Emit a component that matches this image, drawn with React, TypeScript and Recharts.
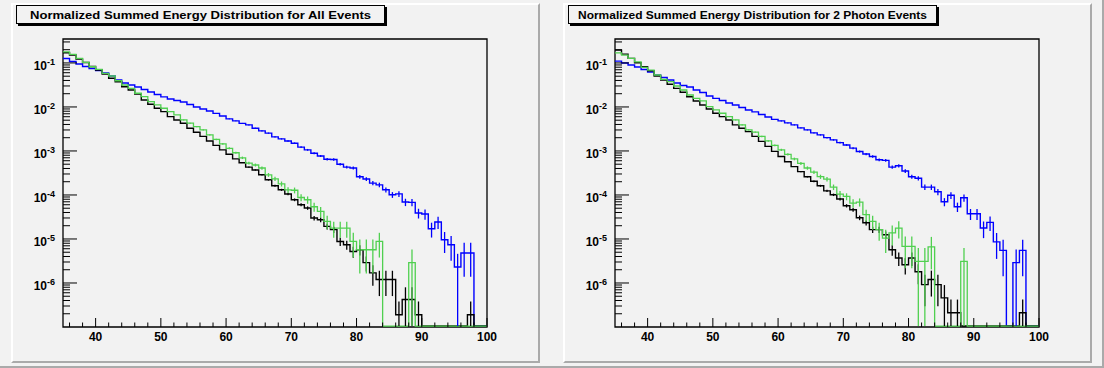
import React from 'react';
import { ComposedChart, Line, Scatter, ErrorBar, XAxis, YAxis, ReferenceArea } from 'recharts';

// ---------- data (bins of width 1 from 35 to 100) ----------
const binEdges: number[] = Array.from({ length: 66 }, (_, i) => 35 + i);

const allBlue = [
  0.126, 0.108, 0.0944, 0.0828, 0.0746, 0.0673, 0.059, 0.0505, 0.0409, 0.035,
  0.0315, 0.0284, 0.0249, 0.0219, 0.0192, 0.0169, 0.0152, 0.014, 0.013, 0.0114,
  0.01, 0.009, 0.0081, 0.00713, 0.00625, 0.00535, 0.00482, 0.00423, 0.00391, 0.00329,
  0.00286, 0.00254, 0.00209, 0.00188, 0.00169, 0.0015, 0.00122, 0.00106, 0.00089, 0.00077,
  0.00065, 0.00064, 0.0005, 0.00043, 0.00041, 0.00026, 0.00023, 0.000186, 0.00017, 0.000131,
  0.000101, 0.000106, 0.000069, 0.000068, 0.0000389, 0.0000369, 0.0000171, 0.0000243, 0.0000096, 0.0000074,
  0.0000023, 0.0000048, 0.0000048, 0, 0,
];
const allBlueErr = [
  0, 0, 0, 0, 0, 0, 0, 0, 0, 0,
  0, 0, 0, 0, 0, 0, 0, 0, 0, 0,
  0, 0, 0, 0, 0, 0.021, 0.022, 0.024, 0.025, 0.027,
  0.029, 0.031, 0.034, 0.036, 0.038, 0.04, 0.044, 0.048, 0.052, 0.056,
  0.061, 0.061, 0.069, 0.075, 0.077, 0.096, 0.1, 0.11, 0.12, 0.135,
  0.15, 0.15, 0.19, 0.19, 0.25, 0.26, 0.37, 0.31, 0.5, 0.57,
  1.0, 0.71, 0.71, 0, 0,
];
const allGreen = [
  0.179, 0.157, 0.127, 0.103, 0.082, 0.0716, 0.0581, 0.0505, 0.0394, 0.0315,
  0.0265, 0.0205, 0.0171, 0.0132, 0.0111, 0.00935, 0.00782, 0.00659, 0.00507, 0.00427,
  0.00357, 0.00301, 0.00232, 0.00183, 0.00145, 0.00115, 0.00091, 0.0007, 0.00053, 0.00048,
  0.00041, 0.000287, 0.000233, 0.000179, 0.000131, 0.000128, 0.0000877, 0.0000778, 0.000054, 0.0000423,
  0.0000251, 0.0000177, 0.0000177, 0.0000177, 0.0000088, 0.0000057, 0.0000057, 0.0000057, 0.0000088, 0,
  0, 0, 0, 0.0000029, 0, 0, 0, 0, 0, 0,
  0, 0, 0, 0, 0,
];
const allGreenErr = [
  0, 0, 0, 0, 0, 0, 0, 0, 0, 0,
  0, 0, 0, 0, 0, 0, 0, 0, 0.024, 0.026,
  0.028, 0.031, 0.035, 0.04, 0.045, 0.05, 0.056, 0.064, 0.074, 0.078,
  0.084, 0.1, 0.11, 0.13, 0.15, 0.15, 0.18, 0.19, 0.23, 0.26,
  0.34, 0.4, 0.4, 0.4, 0.57, 0.71, 0.71, 0.71, 0.57, 0,
  0, 0, 0, 1.0, 0, 0, 0, 0, 0, 0,
  0, 0, 0, 0, 0,
];
const allBlack = [
  0.17, 0.151, 0.122, 0.102, 0.0828, 0.069, 0.056, 0.0448, 0.0375, 0.0288,
  0.0243, 0.0197, 0.0144, 0.0115, 0.00935, 0.00782, 0.00603, 0.00507, 0.00427, 0.00329,
  0.00267, 0.00214, 0.00169, 0.00134, 0.00106, 0.00084, 0.00066, 0.00054, 0.00043, 0.00037,
  0.000287, 0.000221, 0.000162, 0.000131, 0.000105, 0.0000778, 0.00006, 0.0000505, 0.0000299, 0.0000274,
  0.0000193, 0.0000163, 0.0000088, 0.0000074, 0.0000052, 0.0000057, 0.0000029, 0.0000017, 0.0000012, 0.0000012,
  0.0000012, 1.9e-7, 4.2e-7, 4.2e-7, 1.9e-7, 0, 0, 0, 0, 0,
  0, 0, 1.9e-7, 0, 0,
];
const allBlackErr = [
  0, 0, 0, 0, 0, 0, 0, 0, 0, 0,
  0, 0, 0, 0, 0, 0, 0, 0, 0, 0,
  0, 0, 0, 0, 0, 0, 0, 0, 0.03, 0.033,
  0.037, 0.043, 0.05, 0.055, 0.062, 0.072, 0.082, 0.089, 0.116, 0.12,
  0.144, 0.157, 0.21, 0.23, 0.28, 0.26, 0.37, 0.49, 0.58, 0.58,
  0.58, 1.0, 0.9, 0.9, 1.0, 0, 0, 0, 0, 0,
  0, 0, 1.0, 0, 0,
];

const photonBlue = [
  0.11, 0.0995, 0.0895, 0.0807, 0.0708, 0.0622, 0.0532, 0.0467, 0.0409, 0.035,
  0.0308, 0.0284, 0.0243, 0.0213, 0.0177, 0.0157, 0.014, 0.0123, 0.0111, 0.00975,
  0.00855, 0.00771, 0.00676, 0.00593, 0.00521, 0.00482, 0.00434, 0.00391, 0.00334, 0.00301,
  0.00257, 0.00232, 0.00201, 0.00179, 0.00155, 0.00137, 0.00116, 0.00097, 0.00085, 0.00075,
  0.00063, 0.00061, 0.00043, 0.00046, 0.00035, 0.00026, 0.00024, 0.000151, 0.000151, 0.000118,
  0.0000701, 0.0000984, 0.000054, 0.0000865, 0.0000375, 0.0000375, 0.0000177, 0.0000238, 0.0000086, 0.0000055,
  0, 0.0000029, 0.0000055, 0, 0,
];
const photonBlueErr = [
  0, 0, 0, 0, 0, 0, 0, 0, 0, 0,
  0, 0, 0, 0, 0, 0, 0, 0, 0, 0,
  0, 0, 0, 0, 0, 0.025, 0.026, 0.028, 0.03, 0.032,
  0.034, 0.036, 0.039, 0.041, 0.044, 0.047, 0.051, 0.056, 0.059, 0.063,
  0.069, 0.07, 0.084, 0.081, 0.093, 0.107, 0.112, 0.14, 0.14, 0.16,
  0.21, 0.175, 0.24, 0.19, 0.28, 0.28, 0.41, 0.36, 0.59, 0.74,
  0, 1.0, 0.74, 0, 0,
];
const photonGreen = [
  0.17, 0.151, 0.127, 0.106, 0.0795, 0.069, 0.0532, 0.0425, 0.0375, 0.0299,
  0.0243, 0.0187, 0.0157, 0.0137, 0.0102, 0.00855, 0.00719, 0.00603, 0.00507, 0.00391,
  0.00301, 0.00267, 0.00214, 0.00169, 0.00134, 0.00106, 0.00084, 0.00066, 0.00052, 0.00041,
  0.00033, 0.00026, 0.00023, 0.000151, 0.000105, 0.0000925, 0.0000655, 0.000069, 0.0000356, 0.0000251,
  0.0000163, 0.0000105, 0.0000137, 0.0000177, 0.0000068, 0.0000068, 0.0000031, 0.0000031, 0.0000066, 0,
  0, 0, 0, 0.0000031, 0, 0, 0, 0, 0, 0,
  0, 0, 0, 0, 0,
];
const photonGreenErr = [
  0, 0, 0, 0, 0, 0, 0, 0, 0, 0,
  0, 0, 0, 0, 0, 0, 0, 0, 0.025, 0.028,
  0.032, 0.034, 0.038, 0.043, 0.048, 0.054, 0.061, 0.069, 0.077, 0.087,
  0.097, 0.11, 0.116, 0.143, 0.17, 0.18, 0.22, 0.21, 0.3, 0.35,
  0.44, 0.54, 0.48, 0.42, 0.68, 0.68, 1.0, 1.0, 0.69, 0,
  0, 0, 0, 1.0, 0, 0, 0, 0, 0, 0,
  0, 0, 0, 0, 0,
];
const photonBlack = [
  0.196, 0.159, 0.127, 0.101, 0.082, 0.0665, 0.0505, 0.0409, 0.0327, 0.0265,
  0.0215, 0.0171, 0.0137, 0.0111, 0.009, 0.00719, 0.00603, 0.00507, 0.00391, 0.00329,
  0.00275, 0.00214, 0.00165, 0.00127, 0.00098, 0.00075, 0.00057, 0.00044, 0.00034, 0.00026,
  0.000205, 0.000162, 0.000124, 0.000101, 0.0000807, 0.0000569, 0.0000461, 0.0000304, 0.0000234, 0.0000163,
  0.0000163, 0.0000125, 0.0000057, 0.0000037, 0.0000026, 0.0000037, 0.0000018, 9.2e-7, 0.0000012, 9.2e-7,
  4.6e-7, 2.1e-7, 2.1e-7, 0, 0, 0, 0, 0, 0, 0,
  0, 0, 2.1e-7, 0, 0,
];
const photonBlackErr = [
  0, 0, 0, 0, 0, 0, 0, 0, 0, 0,
  0, 0, 0, 0, 0, 0, 0, 0, 0, 0,
  0, 0, 0, 0, 0, 0, 0, 0, 0.035, 0.04,
  0.045, 0.051, 0.058, 0.064, 0.072, 0.086, 0.095, 0.12, 0.13, 0.16,
  0.16, 0.18, 0.27, 0.34, 0.4, 0.34, 0.48, 0.68, 0.59, 0.68,
  0.95, 1.0, 1.0, 0, 0, 0, 0, 0, 0, 0,
  0, 0, 1.0, 0, 0,
];

const xTicks = [36, 38, 40, 42, 44, 46, 48, 50, 52, 54, 56, 58, 60, 62, 64, 66, 68, 70, 72, 74, 76, 78, 80, 82, 84, 86, 88, 90, 92, 94, 96, 98, 100];
const yTicks = [
  2e-7, 3e-7, 4e-7, 5e-7, 6e-7, 7e-7, 8e-7, 9e-7,
  1e-6, 2e-6, 3e-6, 4e-6, 5e-6, 6e-6, 7e-6, 8e-6, 9e-6,
  1e-5, 2e-5, 3e-5, 4e-5, 5e-5, 6e-5, 7e-5, 8e-5, 9e-5,
  1e-4, 2e-4, 3e-4, 4e-4, 5e-4, 6e-4, 7e-4, 8e-4, 9e-4,
  1e-3, 2e-3, 3e-3, 4e-3, 5e-3, 6e-3, 7e-3, 8e-3, 9e-3,
  1e-2, 2e-2, 3e-2, 4e-2, 5e-2, 6e-2, 7e-2, 8e-2, 9e-2,
  1e-1, 2e-1, 3e-1,
];

const titles = [
  'Normalized Summed Energy Distribution for All Events',
  'Normalized Summed Energy Distribution for 2 Photon Events',
];

// ---------- layout / style ----------
const Y_MIN = 1e-7;
const Y_MAX = 0.35;
const FLOOR = 1.05e-7; // where empty bins are drawn (bottom of the frame)
const CHART_W = 552;
const CHART_H = 368;
const PLOT_LEFT = 63;
const PLOT_TOP = 39;
const PLOT_RIGHT = 487;
const PLOT_BOTTOM = 327;
const Y_AXIS_W = 50;
const X_AXIS_H = 30;
const FONT = '"Liberation Sans", Arial, Helvetica, sans-serif';
const BG = '#f2f2f2';
const BLUE = '#0000ff';
const GREEN = '#50d050';
const BLACK = '#000000';

const shown = (v: number) => (v > FLOOR ? v : FLOOR);

function buildSteps(blue: number[], green: number[], black: number[]) {
  return binEdges.map((x, i) => {
    const j = Math.min(i, blue.length - 1);
    return { x, blue: shown(blue[j]), green: shown(green[j]), black: shown(black[j]) };
  });
}

function buildErrors(values: number[], rel: number[]) {
  const out: { x: number; y: number; err: number[] }[] = [];
  values.forEach((v, i) => {
    if (v > 0 && rel[i] > 0) {
      const lo = Math.max(v * (1 - rel[i]), FLOOR);
      out.push({ x: binEdges[i] + 0.5, y: v, err: [v - lo, v * rel[i]] });
    }
  });
  return out;
}

const XTick = (props: any) => {
  const { x, payload } = props;
  const v = payload.value as number;
  const major = v % 10 === 0;
  return (
    <g>
      <line x1={x} x2={x} y1={PLOT_BOTTOM} y2={PLOT_BOTTOM - (major ? 9 : 4.5)} stroke="#000" strokeWidth={1} />
      {major && (
        <text x={x} y={PLOT_BOTTOM + 13.5} textAnchor="middle" fontFamily={FONT} fontWeight="bold" fontSize={12} fill="#000">
          {v}
        </text>
      )}
    </g>
  );
};

const YTick = (props: any) => {
  const { y, payload } = props;
  const v = payload.value as number;
  const lg = Math.log10(v);
  const major = Math.abs(lg - Math.round(lg)) < 1e-6;
  return (
    <g>
      <line x1={PLOT_LEFT} x2={PLOT_LEFT + (major ? 14 : 7)} y1={y} y2={y} stroke="#000" strokeWidth={1} />
      {major && (
        <text x={PLOT_LEFT - 8} y={y + 7.5} textAnchor="end" fontFamily={FONT} fontWeight="bold" fontSize={12} fill="#000">
          10
          <tspan dy={-5.5} fontSize={9}>
            {String(Math.round(lg))}
          </tspan>
        </text>
      )}
    </g>
  );
};

const NoShape = () => <g />;

function Panel(props: { blue: number[]; green: number[]; black: number[]; blueErr: number[]; greenErr: number[]; blackErr: number[] }) {
  const steps = buildSteps(props.blue, props.green, props.black);
  const series = [
    { key: 'blue', color: BLUE, err: buildErrors(props.blue, props.blueErr), w: 1.4 },
    { key: 'black', color: BLACK, err: buildErrors(props.black, props.blackErr), w: 1.4 },
    { key: 'green', color: GREEN, err: buildErrors(props.green, props.greenErr), w: 1.3 },
  ];
  return (
    <ComposedChart
      width={CHART_W}
      height={CHART_H}
      data={steps}
      margin={{ top: PLOT_TOP, right: CHART_W - PLOT_RIGHT, bottom: CHART_H - PLOT_BOTTOM - X_AXIS_H, left: PLOT_LEFT - Y_AXIS_W }}
    >
      <XAxis
        dataKey="x"
        type="number"
        domain={[35, 100]}
        ticks={xTicks}
        interval={0}
        allowDataOverflow
        tickLine={false}
        axisLine={false}
        height={X_AXIS_H}
        tick={(p: any) => <XTick {...p} />}
      />
      <YAxis
        type="number"
        scale="log"
        domain={[Y_MIN, Y_MAX]}
        allowDataOverflow
        ticks={yTicks}
        interval={0}
        tickLine={false}
        axisLine={false}
        width={Y_AXIS_W}
        tick={(p: any) => <YTick {...p} />}
      />
      <ReferenceArea x1={35} x2={100} y1={Y_MIN} y2={Y_MAX} fill="none" stroke="#000" strokeWidth={1.3} />
      {series.map((s) => (
        <Line
          key={s.key + '-line'}
          dataKey={s.key}
          type="stepAfter"
          stroke={s.color}
          strokeWidth={s.w}
          dot={false}
          activeDot={false}
          isAnimationActive={false}
        />
      ))}
      {series.map((s) => (
        <Scatter key={s.key + '-err'} data={s.err} dataKey="y" shape={NoShape} isAnimationActive={false}>
          <ErrorBar dataKey="err" direction="y" width={0} stroke={s.color} strokeWidth={1.3} isAnimationActive={false} />
        </Scatter>
      ))}
    </ComposedChart>
  );
}

function TitleBox(props: { left: number; text: string; textWidth: number; fontSize: number }) {
  return (
    <div
      style={{
        position: 'absolute',
        left: props.left,
        top: 5,
        width: 369,
        height: 19,
        boxSizing: 'border-box',
        border: '1px solid #000',
        background: BG,
        boxShadow: '2px 2px 0 #000',
      }}
    >
      <svg width={367} height={17} style={{ position: 'absolute', left: 0, top: 0 }}>
        <text
          x={183.5}
          y={12.5}
          textAnchor="middle"
          fontFamily={FONT}
          fontWeight="bold"
          fontSize={props.fontSize}
          textLength={props.textWidth}
          lengthAdjust="spacingAndGlyphs"
          fill="#000"
        >
          {props.text}
        </text>
      </svg>
    </div>
  );
}

const padStyle = (left: number): React.CSSProperties => ({
  position: 'absolute',
  left,
  top: 3,
  width: 529,
  height: 360,
  boxSizing: 'border-box',
  borderLeft: '2px solid #ffffff',
  borderTop: '2px solid #ffffff',
  borderRight: '2px solid #aaaaaa',
  borderBottom: '2px solid #aaaaaa',
});

export default function App() {
  return (
    <div
      style={{
        position: 'absolute',
        left: 0,
        top: 0,
        width: 1104,
        height: 368,
        background: BG,
        boxSizing: 'border-box',
        borderRight: '2px solid #aaaaaa',
        borderBottom: '2px solid #aaaaaa',
        overflow: 'hidden',
      }}
    >
      <div style={padStyle(11)} />
      <div style={padStyle(563)} />
      <div style={{ position: 'absolute', left: 0, top: 0 }}>
        <Panel blue={allBlue} green={allGreen} black={allBlack} blueErr={allBlueErr} greenErr={allGreenErr} blackErr={allBlackErr} />
      </div>
      <div style={{ position: 'absolute', left: 552, top: 0 }}>
        <Panel
          blue={photonBlue}
          green={photonGreen}
          black={photonBlack}
          blueErr={photonBlueErr}
          greenErr={photonGreenErr}
          blackErr={photonBlackErr}
        />
      </div>
      <TitleBox left={16} text={titles[0]} textWidth={341} fontSize={11} />
      <TitleBox left={568} text={titles[1]} textWidth={349} fontSize={10.5} />
    </div>
  );
}
